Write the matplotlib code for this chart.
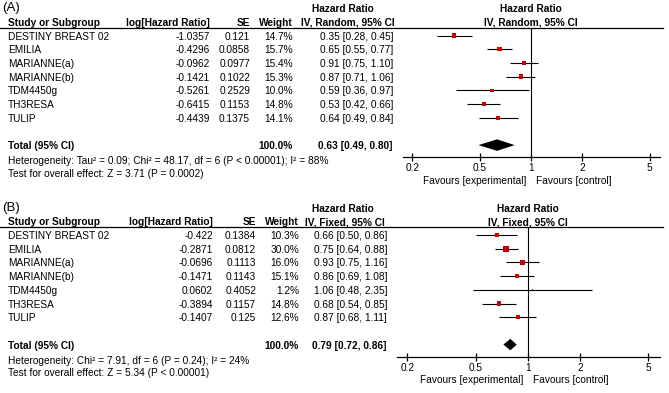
import matplotlib.pyplot as plt
import matplotlib.transforms as mtransforms
import numpy as np

plt.rcParams['font.family'] = ['Liberation Sans', 'DejaVu Sans']

W, H = 669, 393
FS = 7.3

studies = ["DESTINY BREAST 02", "EMILIA", "MARIANNE(a)", "MARIANNE(b)",
           "TDM4450g", "TH3RESA", "TULIP"]

# panel A (random effects)
a_loghr = [-1.0357, -0.4296, -0.0962, -0.1421, -0.5261, -0.6415, -0.4439]
a_se = [0.121, 0.0858, 0.0977, 0.1022, 0.2529, 0.1153, 0.1375]
a_weight = [14.7, 15.7, 15.4, 15.3, 10.0, 14.8, 14.1]
a_hr = [0.35, 0.65, 0.91, 0.87, 0.59, 0.53, 0.64]
a_lo = [0.28, 0.55, 0.75, 0.71, 0.36, 0.42, 0.49]
a_hi = [0.45, 0.77, 1.10, 1.06, 0.97, 0.66, 0.84]
a_total = [0.63, 0.49, 0.80]
a_het = "Heterogeneity: Tau\u00b2 = 0.09; Chi\u00b2 = 48.17, df = 6 (P < 0.00001); I\u00b2 = 88%"
a_test = "Test for overall effect: Z = 3.71 (P = 0.0002)"

# panel B (fixed effect)
b_loghr = [-0.422, -0.2871, -0.0696, -0.1471, 0.0602, -0.3894, -0.1407]
b_se = [0.1384, 0.0812, 0.1113, 0.1143, 0.4052, 0.1157, 0.125]
b_weight = [10.3, 30.0, 16.0, 15.1, 1.2, 14.8, 12.6]
b_hr = [0.66, 0.75, 0.93, 0.86, 1.06, 0.68, 0.87]
b_lo = [0.50, 0.64, 0.75, 0.69, 0.48, 0.54, 0.68]
b_hi = [0.86, 0.88, 1.16, 1.08, 2.35, 0.85, 1.11]
b_total = [0.79, 0.72, 0.86]
b_het = "Heterogeneity: Chi\u00b2 = 7.91, df = 6 (P = 0.24); I\u00b2 = 24%"
b_test = "Test for overall effect: Z = 5.34 (P < 0.00001)"

ticks = [0.2, 0.5, 1, 2, 5]
tick_labels = ["0.2", "0.5", "1", "2", "5"]

fig = plt.figure(figsize=(W / 100, H / 100), dpi=100)


def ftext(x, y, s, **kw):
    # x, y in pixels from top-left
    kw.setdefault('fontsize', FS)
    kw.setdefault('va', 'center')
    fig.text(x / W, 1 - y / H, s, **kw)


def panel(label, y0, method, loghr, se, weight, hr, lo, hi, total, het, test,
          cols, ax_x, xlim):
    # cols: (loghr right, se right, weight right, ci right, ci header centers)
    row0, step = y0 + 35.5, 13.7
    top, bottom = y0 + 27.5, y0 + 157.5
    ax = fig.add_axes([ax_x[0] / W, 1 - bottom / H,
                       (ax_x[1] - ax_x[0]) / W, (bottom - top) / H])
    ax.set_xscale('log')
    ax.set_xlim(*xlim)
    ax.set_ylim((bottom - row0) / step, (top - row0) / step)
    for s in ['top', 'right', 'left']:
        ax.spines[s].set_visible(False)
    ax.spines['bottom'].set_linewidth(0.9)
    ax.set_yticks([])
    ax.set_xticks(ticks)
    ax.set_xticklabels(tick_labels, fontsize=FS)
    ax.minorticks_off()
    ax.tick_params(axis='x', direction='inout', length=6, width=0.9, pad=1)
    ax.axvline(1, color='black', lw=0.8)

    rows = np.arange(len(studies))
    ax.hlines(rows, lo, hi, color='black', lw=0.8)
    ax.scatter(hr, rows, marker='s', s=(0.8 * np.sqrt(weight)) ** 2,
               color='#cc0000', linewidths=0, zorder=3)
    t, tl, th = total
    ty = len(studies) + 1
    ax.fill([tl, t, th, t], [ty, ty - 0.42, ty, ty + 0.42], color='black',
            lw=0)

    tr = mtransforms.blended_transform_factory(fig.transFigure, ax.transData)
    c_lhr, c_se, c_w, c_ci, c_h1, c_h2 = cols
    for i, name in enumerate(studies):
        yy = i + 0.08
        fig.text(8 / W, yy, name, transform=tr, fontsize=FS, va='center')
        fig.text(c_lhr / W, yy, str(loghr[i]), transform=tr, fontsize=FS,
                 va='center', ha='right')
        fig.text(c_se / W, yy, str(se[i]), transform=tr, fontsize=FS,
                 va='center', ha='right')
        fig.text(c_w / W, yy, "%.1f%%" % weight[i], transform=tr,
                 fontsize=FS, va='center', ha='right')
        fig.text(c_ci / W, yy, "%.2f [%.2f, %.2f]" % (hr[i], lo[i], hi[i]),
                 transform=tr, fontsize=FS, va='center', ha='right')
    yy = ty + 0.08
    fig.text(8 / W, yy, "Total (95% CI)", transform=tr, fontsize=FS,
             va='center', fontweight='bold')
    fig.text(c_w / W, yy, "100.0%", transform=tr, fontsize=FS,
             va='center', ha='right', fontweight='bold')
    fig.text(c_ci / W, yy, "%.2f [%.2f, %.2f]" % (t, tl, th), transform=tr,
             fontsize=FS, va='center', ha='right', fontweight='bold')

    # headers
    ftext(2, y0 + 8, label, fontsize=9.5)
    mid = (ax.transData.transform((1, 0))[0])
    ftext(c_h1, y0 + 9, "Hazard Ratio", ha='center', fontweight='bold')
    ftext(c_h2, y0 + 22.5, method, ha='center', fontweight='bold')
    ftext(mid, y0 + 9, "Hazard Ratio", ha='center', fontweight='bold')
    ftext(mid, y0 + 22.5, method, ha='center', fontweight='bold')
    ftext(8, y0 + 22.5, "Study or Subgroup", fontweight='bold')
    ftext(c_lhr, y0 + 22.5, "log[Hazard Ratio]", ha='right', fontweight='bold')
    ftext(c_se, y0 + 22.5, "SE", ha='right', fontweight='bold')
    ftext(c_w, y0 + 22.5, "Weight", ha='right', fontweight='bold')
    fig.add_artist(plt.Line2D([0, 663 / W], [1 - top / H] * 2,
                              color='black', lw=0.9))

    ftext(8, y0 + 161, het)
    ftext(8, y0 + 174, test)
    ftext(mid - 5, y0 + 180.5, "Favours [experimental]", ha='right')
    ftext(mid + 5, y0 + 180.5, "Favours [control]", ha='left')
    return ax


panel("(A)", 0, "IV, Random, 95% CI", a_loghr, a_se, a_weight, a_hr, a_lo,
      a_hi, a_total, a_het, a_test,
      (210, 250, 293, 393, 343, 348), (403, 660), (0.176, 5.74))
panel("(B)", 199.5, "IV, Fixed, 95% CI", b_loghr, b_se, b_weight, b_hr, b_lo,
      b_hi, b_total, b_het, b_test,
      (213, 256, 299, 387, 343, 344.5), (397, 660), (0.174, 5.83))

fig.savefig('out.png', dpi=100)
